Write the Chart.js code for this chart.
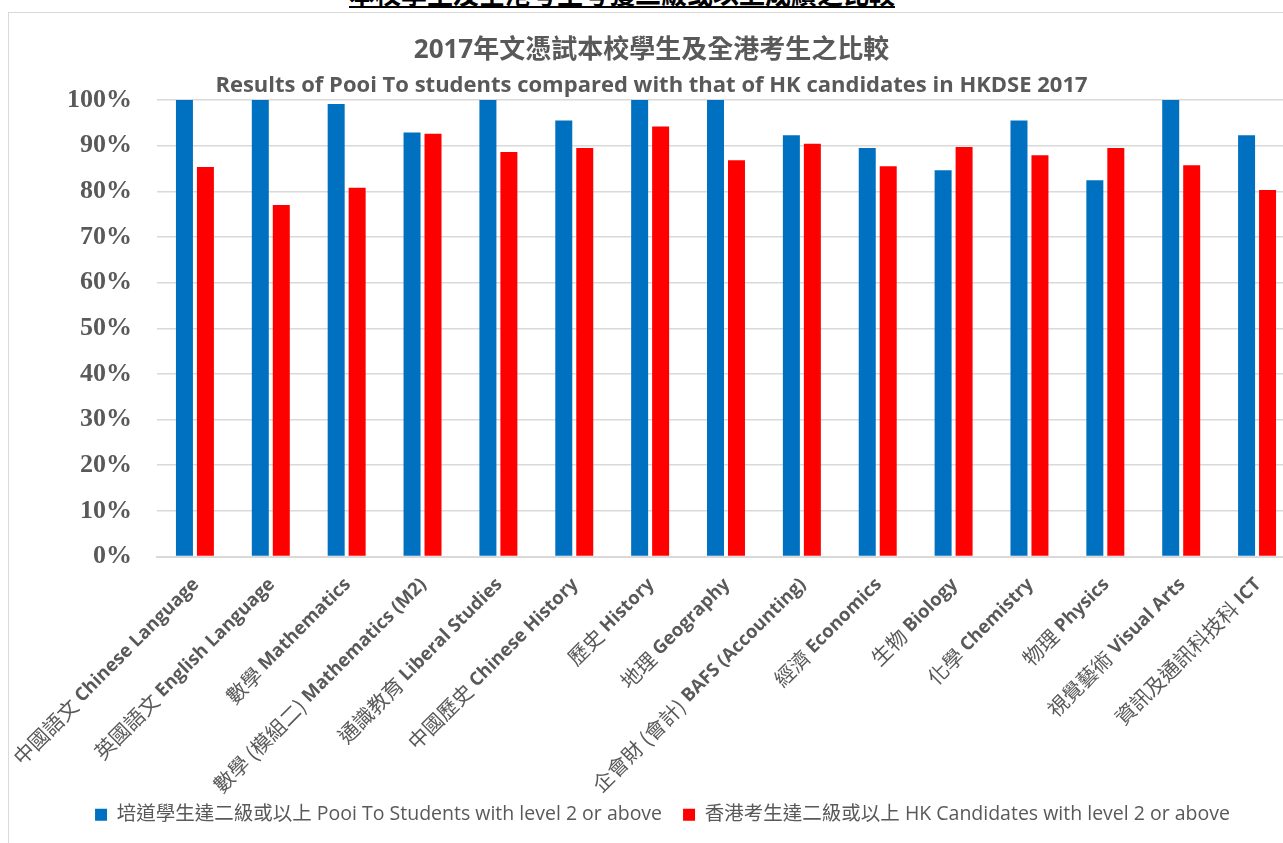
<!DOCTYPE html>
<html>
<head>
<meta charset="utf-8">
<script src="https://cdn.jsdelivr.net/npm/chart.js@4"></script>
<style>
  html, body { margin: 0; padding: 0; background: #fff; overflow: hidden; width: 1283px; height: 843px; }
  #hdr { position: absolute; left: 0; top: -20px; width: 1244px; text-align: center;
         font: bold 26px/26px "Noto Sans CJK TC", sans-serif; color: #000; text-decoration: underline; white-space: nowrap; }
  #vline { position: absolute; left: 8px; top: 12px; width: 1px; height: 840px; background: #d9d9d9; }
  #hline { position: absolute; left: 8px; top: 12px; width: 1300px; height: 1px; background: #d9d9d9; }
  #wrap { position: absolute; left: 0; top: 0; width: 1310px; height: 843px; }
</style>
</head>
<body>
<div id="hdr">本校學生及全港考生考獲二級或以上成績之比較</div>
<div id="vline"></div>
<div id="hline"></div>
<div id="wrap"><canvas id="c" width="1310" height="843"></canvas></div>
<script>
const categoriesZh = ['中國語文','英國語文','數學','數學 (模組二)','通識教育','中國歷史','歷史','地理','企會財 (會計)','經濟','生物','化學','物理','視覺藝術','資訊及通訊科技科'];
const categoriesEn = ['Chinese Language','English Language','Mathematics','Mathematics (M2)','Liberal Studies','Chinese History','History','Geography','BAFS (Accounting)','Economics','Biology','Chemistry','Physics','Visual Arts','ICT'];
const poiToValues = [100, 100, 99.1, 92.9, 100, 95.5, 100, 100, 92.3, 89.5, 84.6, 95.5, 82.4, 100, 92.3];
const hkValues = [85.3, 77.0, 80.8, 92.6, 88.6, 89.5, 94.2, 86.8, 90.4, 85.5, 89.7, 87.9, 89.5, 85.7, 80.3];
const seriesNames = ['培道學生達二級或以上 Pooi To Students with level 2 or above', '香港考生達二級或以上 HK Candidates with level 2 or above'];
const yTicks = [0, 10, 20, 30, 40, 50, 60, 70, 80, 90, 100];
const titleText = '2017年文憑試本校學生及全港考生之比較';
const subtitleText = 'Results of Pooi To students compared with that of HK candidates in HKDSE 2017';

const GRAY = '#595959';
const SANS = "'Open Sans', 'Noto Sans CJK TC', sans-serif";

const xLabelPlugin = {
  id: 'xLabels',
  afterLayout(chart) {
    if (chart.legend) { chart.legend.left += 11; chart.legend.right += 11; }
  },
  afterDraw(chart) {
    const sc = chart.scales.x;
    const ctx = chart.ctx;
    ctx.save();
    ctx.fillStyle = GRAY;
    ctx.textBaseline = 'middle';
    ctx.textAlign = 'right';
    categoriesZh.forEach((zh, i) => {
      const x = sc.getPixelForValue(i) + 1;
      const y = sc.top + 25;
      ctx.save();
      ctx.translate(x, y);
      ctx.rotate(-Math.PI / 4);
      ctx.font = "bold 18.5px 'Open Sans'";
      const en = categoriesEn[i];
      ctx.fillText(en, 0, 0);
      const w = ctx.measureText(en).width + ctx.measureText(' ').width;
      ctx.font = "20.5px 'Noto Sans CJK TC'";
      ctx.fillText(zh, -w, 0);
      ctx.restore();
    });
    ctx.restore();
  }
};

new Chart(document.getElementById('c'), {
  type: 'bar',
  data: {
    labels: categoriesZh.map((z, i) => z + ' ' + categoriesEn[i]),
    datasets: [
      { label: seriesNames[0], data: poiToValues, backgroundColor: '#0070C0', borderWidth: 0,
        barPercentage: 0.81, categoryPercentage: 0.553 },
      { label: seriesNames[1], data: hkValues, backgroundColor: '#FF0000', borderWidth: 0,
        barPercentage: 0.81, categoryPercentage: 0.553 }
    ]
  },
  options: {
    responsive: false,
    animation: false,
    layout: { padding: { left: 8, right: 15, top: 0, bottom: 8.5 } },
    plugins: {
      title: { display: true, text: titleText, color: GRAY,
        font: { family: SANS, size: 26, weight: 'bold' }, padding: { top: 34.8, bottom: 0 } },
      subtitle: { display: true, text: subtitleText, color: GRAY,
        font: { family: SANS, size: 22, weight: 'bold' }, padding: { top: 6.8, bottom: 0.8 } },
      legend: { position: 'bottom',
        labels: { boxWidth: 12, boxHeight: 12, padding: 21, color: GRAY,
          font: { family: SANS, size: 19.5 } } },
      tooltip: { enabled: false }
    },
    scales: {
      x: {
        grid: { display: false },
        border: { color: '#d9d9d9', width: 2 },
        ticks: { display: false },
        afterFit: s => { s.height = 227.5; }
      },
      y: {
        min: 0, max: 100,
        afterBuildTicks: s => { s.ticks = yTicks.map(v => ({ value: v })); },
        grid: { color: '#d9d9d9', lineWidth: 1.5, drawTicks: false },
        border: { display: false },
        ticks: { padding: 25, color: GRAY, callback: v => v + '%',
          font: { family: "'Liberation Serif'", size: 26, weight: 'bold' } },
        afterFit: s => { s.width = 149; }
      }
    }
  },
  plugins: [xLabelPlugin]
});
</script>
</body>
</html>
